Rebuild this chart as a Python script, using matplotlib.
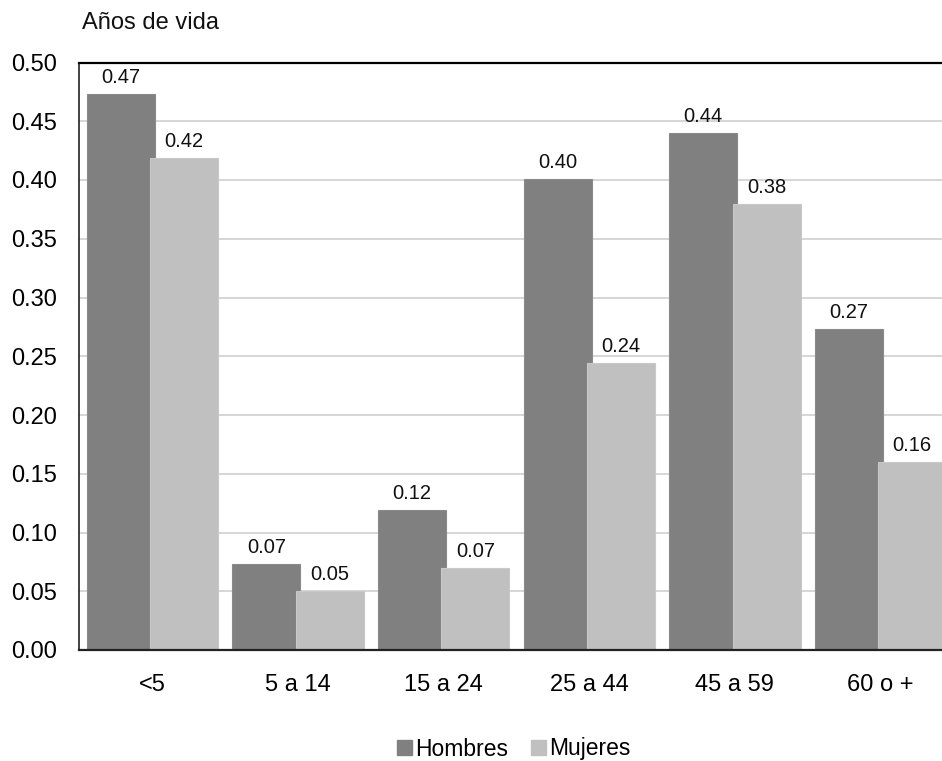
import matplotlib
matplotlib.use("Agg")
import matplotlib.pyplot as plt
import numpy as np
from matplotlib.patches import Patch

plt.rcParams['font.family'] = ['Liberation Sans', 'DejaVu Sans']

categories = ["<5", "5 a 14", "15 a 24", "25 a 44", "45 a 59", "60 o +"]
hombres = [0.473, 0.073, 0.119, 0.401, 0.440, 0.273]
mujeres = [0.419, 0.0505, 0.0696, 0.244, 0.380, 0.160]
y_ticks = [0.00, 0.05, 0.10, 0.15, 0.20, 0.25, 0.30, 0.35, 0.40, 0.45, 0.50]

c_h = "#808080"
c_m = "#c0c0c0"

W, H = 942, 761
fig = plt.figure(figsize=(W / 100, H / 100), dpi=100)
ax_left = 79 / W
ax_bottom = 1 - 650 / H
ax_top = 1 - 62.5 / H
ax_width = 873.6 / W
ax = fig.add_axes([ax_left, ax_bottom, ax_width, ax_top - ax_bottom])

x = np.arange(len(categories))
width = 0.467
off = 0.218
bh = ax.bar(x - off, hombres, width, color=c_h, edgecolor="#8a8a8a", linewidth=0.8, zorder=3)
bm = ax.bar(x + off, mujeres, width, color=c_m, edgecolor="#c8c8c8", linewidth=0.8, zorder=4)

for rect, v in zip(bh, hombres):
    ax.annotate(f"{v:.2f}", (rect.get_x() + rect.get_width() / 2, v),
                xytext=(0, 5), textcoords="offset points", ha="center", va="bottom",
                fontsize=14.5, color="#111111", zorder=5)
for rect, v in zip(bm, mujeres):
    ax.annotate(f"{v:.2f}", (rect.get_x() + rect.get_width() / 2, v),
                xytext=(0, 5), textcoords="offset points", ha="center", va="bottom",
                fontsize=14.5, color="#111111", zorder=5)

ax.set_xlim(-0.505, len(categories) - 0.505)
ax.set_ylim(0, 0.5)
ax.set_yticks(y_ticks)
ax.set_yticklabels([f"{t:.2f}" for t in y_ticks], fontsize=17)
ax.set_xticks(x)
ax.set_xticklabels(categories, fontsize=17)
ax.tick_params(axis="x", length=0, pad=17)
ax.tick_params(axis="y", length=0, pad=15.5)
ax.yaxis.grid(True, color="#cfcfcf", linewidth=1.2, zorder=0)
ax.set_axisbelow(True)

ax.spines["right"].set_visible(False)
ax.spines["left"].set_color("#222222")
ax.spines["left"].set_linewidth(1.2)
ax.spines["bottom"].set_color("#222222")
ax.spines["bottom"].set_linewidth(1.6)
ax.spines["bottom"].set_zorder(6)
ax.spines["top"].set_color("#000000")
ax.spines["top"].set_linewidth(1.6)

fig.text(82 / W, 1 - 23 / H, "Años de vida", fontsize=17, ha="left", va="center", color="#111111")

handles = [Patch(facecolor=c_h, edgecolor=c_h), Patch(facecolor=c_m, edgecolor=c_m)]
fig.legend(handles, ["Hombres", "Mujeres"], loc="center", bbox_to_anchor=(514 / W, 1 - 749 / H),
           ncol=2, frameon=False, fontsize=16.5, handlelength=0.65, handleheight=0.65,
           handletextpad=0.15, columnspacing=1.0)

fig.savefig("out.png", dpi=100)
